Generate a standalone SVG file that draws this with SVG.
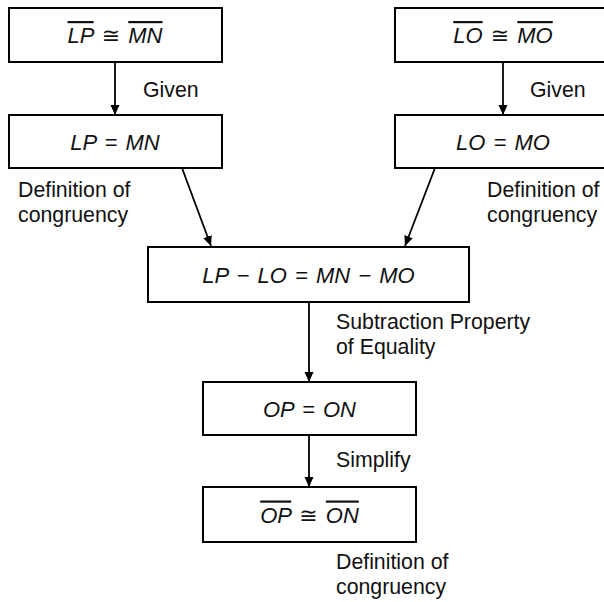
<svg xmlns="http://www.w3.org/2000/svg" width="604" height="602" viewBox="0 0 604 602">
<defs>
<marker id="ah" viewBox="0 0 10 10" refX="10" refY="5" markerWidth="10" markerHeight="10" markerUnits="userSpaceOnUse" orient="auto">
<path d="M0,0.5 L10,5 L0,9.5 Z" fill="#000"/>
</marker>
<style>
.box{fill:#fff;stroke:#000;stroke-width:2}
.m{font-family:"Liberation Sans","DejaVu Sans",Arial,sans-serif;font-style:italic;font-size:22px;word-spacing:2px;text-anchor:middle;fill:#111}
.l{font-family:"Liberation Sans",Arial,sans-serif;font-size:21.3px;fill:#111}
.ol{text-decoration:overline}
.c{stroke:#000;stroke-width:1.8;fill:none;marker-end:url(#ah)}
</style>
</defs>
<rect width="604" height="602" fill="#fff"/>
<g id="connectors">
<line class="c" x1="115" y1="62" x2="115" y2="115"/>
<line class="c" x1="503" y1="62" x2="503" y2="115"/>
<line class="c" x1="182" y1="168" x2="211" y2="246"/>
<line class="c" x1="435" y1="168" x2="405" y2="246"/>
<line class="c" x1="309" y1="302" x2="309" y2="382"/>
<line class="c" x1="309" y1="435" x2="309" y2="487"/>
</g>
<g id="n1">
<rect class="box" x="9" y="8" width="213" height="54"/>
<text class="m" x="115" y="43"><tspan class="ol">LP</tspan>  ≅ <tspan class="ol">MN</tspan></text>
</g>
<g id="n2">
<rect class="box" x="395" y="8" width="216" height="54"/>
<text class="m" x="503" y="43"><tspan class="ol">LO</tspan> ≅ <tspan class="ol">MO</tspan></text>
</g>
<g id="n3">
<rect class="box" x="9" y="115" width="213" height="53"/>
<text class="m" x="115" y="149.5">LP = MN</text>
</g>
<g id="n4">
<rect class="box" x="395" y="115" width="216" height="53"/>
<text class="m" x="503" y="149.5">LO = MO</text>
</g>
<g id="n5">
<rect class="box" x="148" y="247" width="321" height="55"/>
<text class="m" x="308.5" y="283">LP − LO = MN − MO</text>
</g>
<g id="n6">
<rect class="box" x="203" y="382" width="213" height="53"/>
<text class="m" x="309.5" y="416.5">OP = ON</text>
</g>
<g id="n7">
<rect class="box" x="203" y="487" width="213" height="55"/>
<text class="m" x="309.5" y="522.5"><tspan class="ol">OP</tspan> ≅ <tspan class="ol">ON</tspan></text>
</g>
<g id="labels">
<text class="l" x="143" y="96.5">Given</text>
<text class="l" x="530" y="96.5">Given</text>
<text class="l" x="18" y="197">Definition of</text>
<text class="l" x="18" y="222">congruency</text>
<text class="l" x="487" y="197">Definition of</text>
<text class="l" x="487" y="222">congruency</text>
<text class="l" x="336" y="329">Subtraction Property</text>
<text class="l" x="336" y="354">of Equality</text>
<text class="l" x="336" y="467">Simplify</text>
<text class="l" x="336" y="569">Definition of</text>
<text class="l" x="336" y="594">congruency</text>
</g>
</svg>
